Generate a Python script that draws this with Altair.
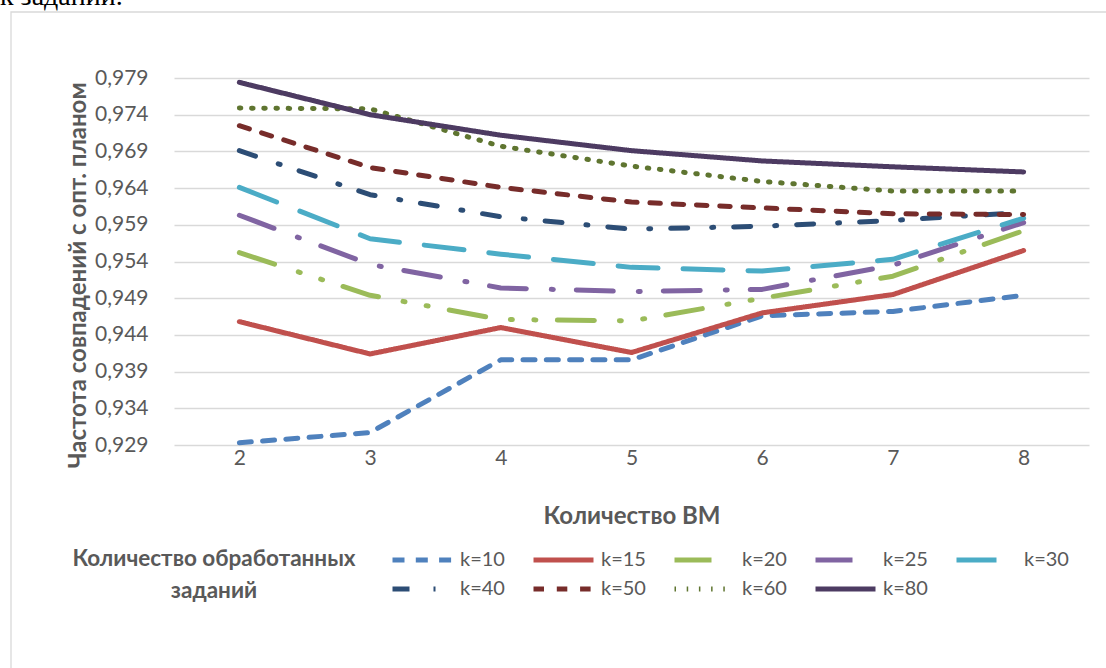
import altair as alt
import pandas as pd

# Number of VMs on the x axis
vm_counts = [2, 3, 4, 5, 6, 7, 8]

# Series: number of processed tasks
series_names = ["k=10", "k=15", "k=20", "k=25", "k=30", "k=40", "k=50", "k=60", "k=80"]

k10 = [0.9293, 0.9307, 0.9406, 0.9406, 0.9466, 0.9472, 0.9494]
k15 = [0.9458, 0.9414, 0.9450, 0.9416, 0.9470, 0.9495, 0.9555]
k20 = [0.9552, 0.9494, 0.9461, 0.9459, 0.9490, 0.9520, 0.9582]
k25 = [0.9603, 0.9536, 0.9504, 0.9499, 0.9502, 0.9535, 0.9593]
k30 = [0.9641, 0.9571, 0.9550, 0.9532, 0.9527, 0.9543, 0.9599]
k40 = [0.9691, 0.9631, 0.9601, 0.9584, 0.9588, 0.9596, 0.9607]
k50 = [0.9725, 0.9668, 0.9641, 0.9621, 0.9613, 0.9605, 0.9604]
k60 = [0.9749, 0.9748, 0.9697, 0.9670, 0.9649, 0.9636, 0.9636]
k80 = [0.9784, 0.9740, 0.9712, 0.9691, 0.9677, 0.9669, 0.9662]

y_ticks = [0.929, 0.934, 0.939, 0.944, 0.949, 0.954, 0.959, 0.964, 0.969, 0.974, 0.979]

series_colors = ["#4F81BD", "#C0504D", "#9BBB59", "#8064A2", "#4BACC6",
                 "#2C4D75", "#772C2A", "#5F7530", "#4D3B62"]
series_dashes = [
    [12, 11.3],                       # dash
    [1, 0],                           # solid
    [37, 25, 2, 21.5, 2, 21.5],       # long dash dot dot
    [37, 25, 2, 23],                  # long dash dot
    [40, 25],                         # long dash
    [17, 24, 2, 20],                  # dash dot
    [10.5, 12.8],                     # dash
    [1.5, 10.7],                      # round dot
    [1, 0],                           # solid
]

values_by_series = [k10, k15, k20, k25, k30, k40, k50, k60, k80]
rows = []
for name, vals in zip(series_names, values_by_series):
    for vm, v in zip(vm_counts, vals):
        rows.append({"vm": vm, "rate": v, "series": name})
df = pd.DataFrame(rows)

FONT = "Lato"
TEXT_COLOR = "#595959"

legend_style = dict(
    orient="none", legendX=-102, legendY=471,
    direction="horizontal", columns=5, padding=0,
    title=["Количество обработанных", "заданий"],
    titleOrient="left", titleAlign="center", titleAnchor="middle",
    titleFont=FONT, titleFontSize=22.5, titleFontWeight="bold",
    titleColor=TEXT_COLOR, titlePadding=-108, titleLineHeight=32, titleLimit=600,
    labelFont=FONT, labelFontSize=20, labelColor=TEXT_COLOR,
    symbolType="stroke", symbolSize=3600, symbolStrokeWidth=5,
    labelOffset=5, columnPadding=26, rowPadding=7, clipHeight=22,
)

lines = alt.Chart(df).mark_line(strokeWidth=5, strokeCap="round", strokeJoin="round").encode(
    x=alt.X(
        "vm:Q",
        scale=alt.Scale(domain=[1.5, 8.5], nice=False, zero=False),
        axis=alt.Axis(
            values=vm_counts, format="d", grid=False, domain=False, ticks=False,
            labelPadding=2, labelFont=FONT, labelFontSize=21, labelColor=TEXT_COLOR,
            title="Количество ВМ", titleFont=FONT, titleFontSize=24,
            titleFontWeight="bold", titleColor=TEXT_COLOR,
            titleY=71, titleBaseline="middle",
        ),
    ),
    y=alt.Y(
        "rate:Q",
        scale=alt.Scale(domain=[0.929, 0.979], nice=False, zero=False),
        axis=alt.Axis(
            values=y_ticks,
            labelExpr="replace(format(datum.value, '.3f'), '.', ',')",
            grid=True, gridColor="#D9D9D9", gridWidth=1.3,
            domain=False, ticks=False, labelPadding=26,
            labelFont=FONT, labelFontSize=21, labelColor=TEXT_COLOR,
            title="Частота совпадений с опт. планом", titleFont=FONT,
            titleFontSize=24, titleFontWeight="bold", titleColor=TEXT_COLOR,
            titleAngle=270, titleX=-96, titleY=197,
            titleAlign="center", titleBaseline="middle",
        ),
    ),
    color=alt.Color(
        "series:N",
        scale=alt.Scale(domain=series_names, range=series_colors),
        legend=alt.Legend(**legend_style),
    ),
    strokeDash=alt.StrokeDash(
        "series:N",
        scale=alt.Scale(domain=series_names, range=series_dashes),
        legend=alt.Legend(**legend_style),
    ),
    order=alt.Order("vm:Q"),
)

anchor = pd.DataFrame({"label": ["к заданий."]})

# Border of the embedded chart object
frame = alt.Chart(anchor).mark_rect(
    filled=False, stroke="#D9D9D9", strokeWidth=1.3
).encode(
    x=alt.value(-163), x2=alt.value(1200),
    y=alt.value(-66), y2=alt.value(800),
)

# Fragment of the surrounding document text
caption = alt.Chart(anchor).mark_text(
    font="Liberation Serif", fontSize=28, color="#000000",
    align="left", baseline="alphabetic",
).encode(
    text="label:N", x=alt.value(-174), y=alt.value(-73),
)

chart = alt.layer(frame, caption, lines).properties(
    width=915, height=367,
    padding={"left": 174, "top": 78, "right": 17, "bottom": 223},
    autosize=alt.AutoSizeParams(type="none"),
    background="white",
).configure_view(strokeWidth=0)

chart.save("out.html", embed_options={"renderer": "svg", "actions": False})
